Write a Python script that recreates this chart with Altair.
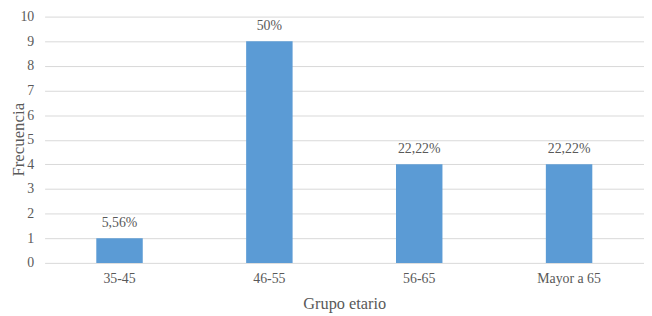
import altair as alt
import pandas as pd

grupos = ["35-45", "46-55", "56-65", "Mayor a 65"]
frecuencias = [1, 9, 4, 4]
etiquetas = ["5,56%", "50%", "22,22%", "22,22%"]

df = pd.DataFrame({"grupo": grupos, "frec": frecuencias, "pct": etiquetas})

FONT = "Liberation Serif"
TXT = "#595959"

base = alt.Chart(df).encode(
    x=alt.X("grupo:N", sort=grupos, title="Grupo etario",
            scale=alt.Scale(paddingInner=0.69, paddingOuter=0.345),
            axis=alt.Axis(labelAngle=0, ticks=False, domain=False, grid=False,
                          labelPadding=9, titlePadding=10, labelFontSize=14,
                          titleFontSize=16.5)),
    y=alt.Y("frec:Q", title="Frecuencia",
            scale=alt.Scale(domain=[0, 10], nice=False),
            axis=alt.Axis(values=list(range(0, 11)), ticks=False, domain=False,
                          gridColor="#d9d9d9", labelPadding=11,
                          labelFontSize=14, titleFontSize=17,
                          titleX=-26, titleY=124, titleAngle=270,
                          titleAlign="center", titleBaseline="middle")),
)

bars = base.mark_bar(color="#5B9BD5")
text = base.mark_text(dy=-15, baseline="middle", font=FONT, fontSize=14,
                      color=TXT).encode(text="pct:N")

chart = (bars + text).properties(
    width=606, height=249,
    autosize=alt.AutoSizeParams(type="none"),
    padding={"left": 37, "top": 7, "right": 0, "bottom": 52},
).configure_axis(
    labelFont=FONT, titleFont=FONT, labelColor=TXT, titleColor=TXT,
    titleFontWeight="normal"
).configure_view(stroke=None)

chart.save("out.html", embed_options={"renderer": "svg", "actions": False})
